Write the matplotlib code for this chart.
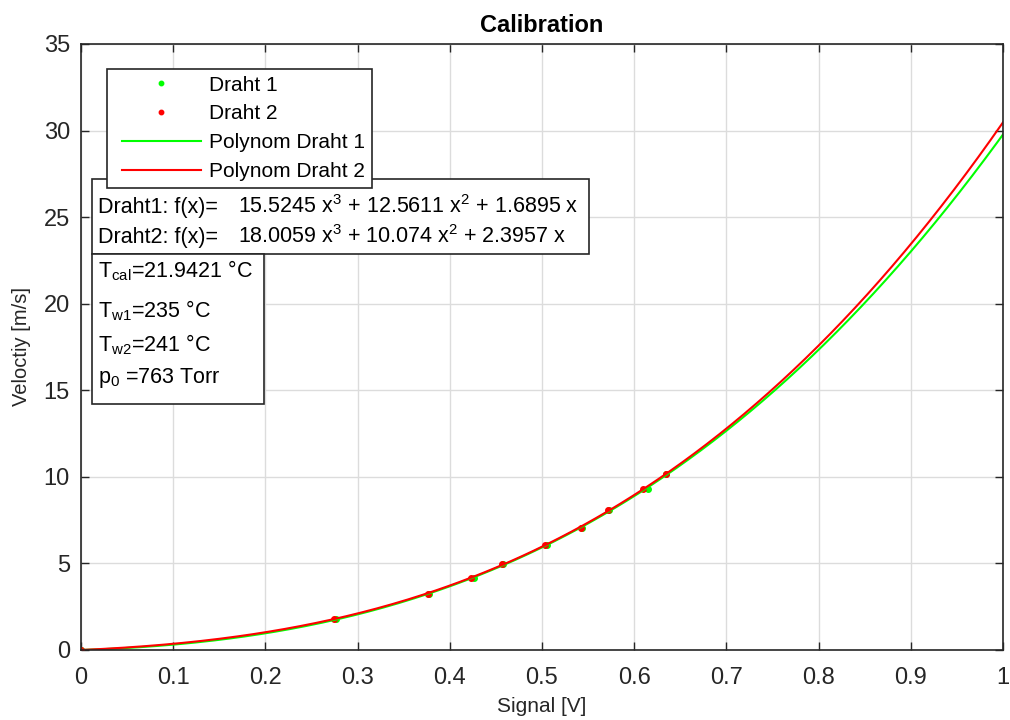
import numpy as np
import matplotlib
matplotlib.use('Agg')
import matplotlib.pyplot as plt
from matplotlib.patches import Rectangle
from matplotlib.lines import Line2D
from matplotlib.legend_handler import HandlerLine2D

plt.rcParams['font.family'] = ['Liberation Sans', 'DejaVu Sans']
plt.rcParams['mathtext.default'] = 'regular'

# calibration points
signal1 = [0.0, 0.277, 0.377, 0.426, 0.458, 0.505, 0.543, 0.573, 0.615, 0.635]
signal2 = [0.0, 0.274, 0.376, 0.423, 0.457, 0.503, 0.542, 0.572, 0.610, 0.634]
velocity = [0.0, 1.8, 3.25, 4.15, 4.95, 6.05, 7.05, 8.1, 9.3, 10.15]

# polynomial coefficients (x^3, x^2, x, const) as printed on the chart
poly1 = [15.5245, 12.5611, 1.6895, 0.0]
poly2 = [18.0059, 10.074, 2.3957, 0.0]

eq_labels = ['Draht1: f(x)=', 'Draht2: f(x)=']
eq_texts = ['15.5245 x$^3$ + 12.5611 x$^2$ + 1.6895 x',
            '18.0059 x$^3$ + 10.074 x$^2$ + 2.3957 x']
cond_texts = ['T$_{cal}$=21.9421 °C', 'T$_{w1}$=235 °C', 'T$_{w2}$=241 °C', 'p$_0$ =763 Torr']

green = '#00FF00'
red = '#FF0000'
dark = '#262626'

fig = plt.figure(figsize=(10.1, 7.2), dpi=100)
ax = fig.add_axes([81/1010, 70/720, 922/1010, 606/720])

xs = np.linspace(0, 1, 300)
ax.plot(signal1, velocity, '.', color=green, ms=8, label='Draht 1')
ax.plot(signal2, velocity, '.', color=red, ms=8, label='Draht 2')
ax.plot(xs, np.polyval(poly1, xs), color=green, lw=1.5, label='Polynom Draht 1')
ax.plot(xs, np.polyval(poly2, xs), color=red, lw=1.5, label='Polynom Draht 2')

ax.set_xlim(0, 1)
ax.set_ylim(0, 35)
ax.set_xticks(np.arange(0, 1.01, 0.1))
ax.set_xticklabels(['0', '0.1', '0.2', '0.3', '0.4', '0.5', '0.6', '0.7', '0.8', '0.9', '1'])
ax.set_yticks(np.arange(0, 36, 5))
ax.grid(True, color='#dcdcdc', lw=1)
ax.set_axisbelow(True)
ax.tick_params(direction='in', length=6, width=1, top=True, right=True,
               labelsize=17, colors=dark)
ax.tick_params(axis='x', pad=12)
ax.tick_params(axis='y', pad=8)
for s in ax.spines.values():
    s.set_color(dark)
    s.set_linewidth(1.2)

ax.set_title('Calibration', fontsize=17, fontweight='bold', pad=9)
ax.set_xlabel('Signal [V]', fontsize=15, color=dark, labelpad=6)
ax.set_ylabel('Veloctiy [m/s]', fontsize=14.5, color=dark, labelpad=9)

leg = ax.legend(loc='upper left', bbox_to_anchor=(0.028, 0.959), fontsize=15,
                fancybox=False, edgecolor=dark, framealpha=1, handlelength=4.2,
                handletextpad=0.4, borderpad=0.32, labelspacing=0.47,
                markerscale=0.8, borderaxespad=0,
                handler_map={Line2D: HandlerLine2D(xpad=0.4)})
leg.get_frame().set_linewidth(1.2)

# text boxes
ax.add_patch(Rectangle((0.012, 0.6535), 0.539, 0.1235, transform=ax.transAxes,
                       fc='white', ec=dark, lw=1.2, zorder=4))
ax.add_patch(Rectangle((0.012, 0.406), 0.1865, 0.2475, transform=ax.transAxes,
                       fc='white', ec=dark, lw=1.2, zorder=4))
for i, y in enumerate([0.721, 0.6716]):
    ax.text(0.0184, y, eq_labels[i], transform=ax.transAxes, fontsize=15.5,
            va='baseline', color='black', zorder=4.5)
    ax.text(0.170, y, eq_texts[i], transform=ax.transAxes, fontsize=15.5,
            va='baseline', color='black', zorder=4.5)
for t, y in zip(cond_texts, [0.6155, 0.5495, 0.4934, 0.4406]):
    ax.text(0.0184, y, t, transform=ax.transAxes, fontsize=15.5,
            va='baseline', color='black', zorder=4.5)

fig.savefig('out.png', dpi=100)
